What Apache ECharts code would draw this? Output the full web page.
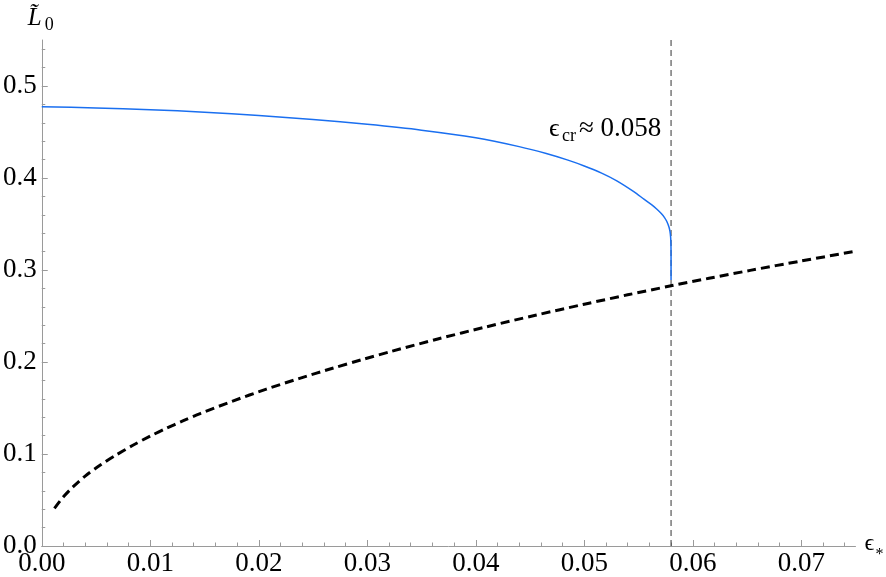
<!DOCTYPE html>
<html><head><meta charset="utf-8">
<script src="https://cdn.jsdelivr.net/npm/echarts@6/dist/echarts.min.js"></script>
<style>html,body{margin:0;padding:0;background:#fff}#c{width:886px;height:577px}</style>
</head><body><div id="c"></div>
<script>
// ---- data ----
const blueX = [0, 0.005, 0.010, 0.015, 0.020, 0.025, 0.030, 0.035, 0.040, 0.044, 0.0465, 0.0485, 0.0500, 0.0516, 0.0530, 0.0546, 0.0555, 0.0562, 0.0567, 0.0571, 0.0574, 0.0576, 0.0578, 0.05790, 0.05796, 0.05799, 0.0580, 0.0580];
const blueY = [0.4775, 0.4762, 0.4743, 0.4716, 0.4680, 0.4636, 0.4583, 0.4520, 0.4437, 0.4341, 0.4266, 0.4194, 0.4131, 0.4053, 0.3969, 0.3849, 0.3770, 0.3710, 0.3660, 0.3613, 0.3570, 0.3530, 0.3470, 0.3420, 0.3360, 0.3280, 0.3150, 0.2890];
const dashX = [0.00117, 0.0020, 0.0029, 0.0040, 0.0054, 0.0068, 0.0084, 0.0100, 0.0115, 0.0130, 0.0146, 0.0176, 0.0207, 0.0237, 0.0268, 0.0295, 0.0323, 0.0365, 0.0409, 0.0455, 0.0500, 0.0540, 0.0580, 0.0615, 0.0653, 0.0700, 0.0748];
const dashY = [0.041, 0.0535, 0.0645, 0.0760, 0.0880, 0.0985, 0.1095, 0.1195, 0.1280, 0.1360, 0.1440, 0.1575, 0.1705, 0.1820, 0.1932, 0.2025, 0.2118, 0.2250, 0.2380, 0.2508, 0.2628, 0.2730, 0.2828, 0.2910, 0.2996, 0.3098, 0.3200];
const eCr = 0.058;
const xTicks = [0, 0.01, 0.02, 0.03, 0.04, 0.05, 0.06, 0.07];
const yTicks = [0, 0.1, 0.2, 0.3, 0.4, 0.5];
const xMinor = [];
for (let i = 1; i <= 37; i++) { if (i % 5) xMinor.push(Math.round(i * 2) / 1000); }
const yMinor = [];
for (let i = 1; i <= 27; i++) { if (i % 5) yMinor.push(Math.round(i * 2) / 100); }
const annText = '≈ 0.058';

const X_MAX = 0.075, Y_MAX = 0.55;
const AX = '#9a9a9a';
const SERIF = 'Liberation Serif';
const FS = 27;

const chart = echarts.init(document.getElementById('c'), null, {renderer: 'canvas'});
function mkX(minor) {
  return {
    type: 'value', min: 0, max: X_MAX, position: 'bottom', gridIndex: 0,
    axisLine: {show: !minor, onZero: false, lineStyle: {color: AX, width: 1}},
    axisTick: {show: true, inside: true, length: minor ? 3.5 : 6, customValues: minor ? xMinor : xTicks, lineStyle: {color: AX, width: 1}},
    axisLabel: minor ? {show: false} : {show: true, customValues: xTicks, formatter: v => v.toFixed(2), fontFamily: SERIF, fontSize: FS, color: '#000', margin: 4},
    splitLine: {show: false}
  };
}
function mkY(minor) {
  return {
    type: 'value', min: 0, max: Y_MAX, position: 'left', gridIndex: 0,
    axisLine: {show: !minor, onZero: false, lineStyle: {color: AX, width: 1}},
    axisTick: {show: true, inside: true, length: minor ? 3.5 : 6, customValues: minor ? yMinor : yTicks, lineStyle: {color: AX, width: 1}},
    axisLabel: minor ? {show: false} : {show: true, customValues: yTicks, formatter: v => v.toFixed(1), fontFamily: SERIF, fontSize: FS, color: '#000', margin: 5},
    splitLine: {show: false}
  };
}
chart.setOption({
  animation: false,
  backgroundColor: '#fff',
  textStyle: {fontFamily: SERIF},
  grid: {left: 38, top: 40, right: 30.5, bottom: 31, containLabel: false},
  xAxis: [mkX(false), mkX(true)],
  yAxis: [mkY(false), mkY(true)],
  series: [
    {
      name: 'critical', type: 'line', xAxisIndex: 0, yAxisIndex: 0, showSymbol: false, silent: true,
      data: [[eCr, 0], [eCr, Y_MAX]],
      lineStyle: {color: '#333', width: 1, type: [6, 4]}, z: 1
    },
    {
      type: 'line', xAxisIndex: 0, yAxisIndex: 0, showSymbol: false, smooth: 0.25,
      data: blueX.map((x, i) => [x, blueY[i]]),
      lineStyle: {color: '#1a6ff0', width: 1.5}, z: 3
    },
    {
      type: 'line', xAxisIndex: 0, yAxisIndex: 0, showSymbol: false, smooth: 0.3,
      data: dashX.map((x, i) => [x, dashY[i]]),
      lineStyle: {color: '#000', width: 3, type: [9, 5]}, z: 2
    }
  ]
});

// annotations & axis names positioned from the axis scales
const p0 = chart.convertToPixel({gridIndex: 0}, [0, Y_MAX]);   // top of y axis
const p1 = chart.convertToPixel({gridIndex: 0}, [X_MAX, 0]);   // right end of x axis
const pa = chart.convertToPixel({gridIndex: 0}, [eCr, 0.4522]); // annotation anchor
const baseA = pa[1] + 8.3;
const rightA = pa[0] - 10;
function txt(text, x, y, size, opts) {
  return {type: 'text', style: Object.assign({text: text, x: x, y: y, fill: '#000', fontFamily: SERIF, fontSize: size, textAlign: 'left', textVerticalAlign: 'middle'}, opts || {})};
}
chart.setOption({
  graphic: [
    // annotation
    txt('ϵ', rightA - 112, baseA - 0.34 * 26, 26),
    txt('cr', rightA - 99, baseA + 4 - 0.34 * 18, 18),
    txt(annText, rightA - 82, baseA - 0.34 * 27, 27),
    // x axis name
    txt('ϵ', p1[0] + 9, p1[1] + 6 - 0.34 * 24, 24),
    txt('*', p1[0] + 20, p1[1] + 14 - 0.34 * 16, 16),
    // y axis name
    txt('L\u0303', p0[0] - 14, p0[1] - 13 - 0.34 * 25, 25, {fontStyle: 'italic'}),
    txt('0', p0[0] + 3, p0[1] - 9 - 0.34 * 18, 18)
  ]
});
</script>
</body></html>
